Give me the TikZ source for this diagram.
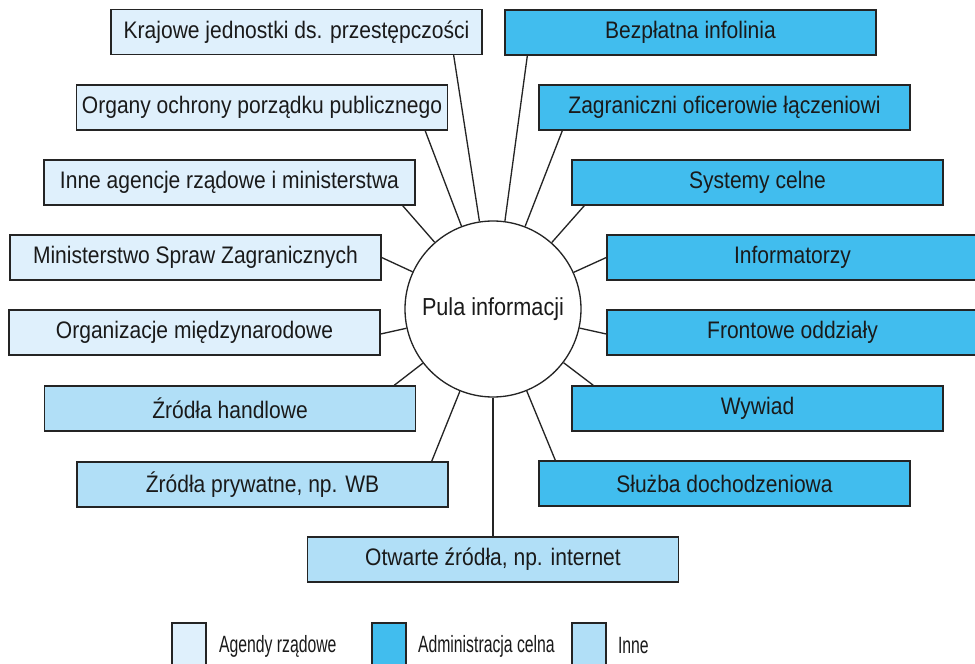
\documentclass[tikz,border=0pt]{standalone}
\usepackage{fontspec}
\setmainfont{Liberation Sans}[FakeStretch=0.88]
\newfontfamily\legfont{Liberation Sans}[FakeStretch=0.67]
\usepackage{tikz}
\usetikzlibrary{positioning, calc}

\definecolor{agendy}{HTML}{DFF0FC}
\definecolor{celna}{HTML}{41BDEE}
\definecolor{inne}{HTML}{B1DFF7}
\definecolor{ramka}{HTML}{242424}
\definecolor{tekst}{HTML}{1A1A1A}

\begin{document}
\begin{tikzpicture}[
                source/.style={draw=ramka, line width=0.75pt, rectangle, minimum width=7.42cm, minimum height=0.9cm, inner sep=0pt, text=tekst, font=\fontsize{13.6}{15}\selectfont},
                pool/.style={draw=ramka, line width=0.75pt, circle, minimum size=3.52cm, inner sep=0pt, text=tekst, font=\fontsize{14}{16}\selectfont},
                legbox/.style={draw=ramka, line width=0.75pt, rectangle, minimum width=0.68cm, minimum height=0.92cm, inner sep=0pt},
                legtext/.style={text=tekst, inner sep=0pt, anchor=west, font=\legfont\fontsize{13.4}{15}\selectfont},
                edge/.style={draw=ramka, line width=0.75pt}
            ]

            \clip (0,0) rectangle (19.5,-13.28);
            \fill[white] (0,0) rectangle (19.5,-13.28);

            % Pula
            \node[pool] (pula) at (9.86,-6.18) {Pula informacji};

            % Agendy rzadowe
            \node[source, fill=agendy] (kraj) at (5.93,-0.64) {Krajowe jednostki ds. przestępczości};
            \node[source, fill=agendy] (organy) at (5.24,-2.15) {Organy ochrony porządku publicznego};
            \node[source, fill=agendy] (agencje) at (4.59,-3.65) {Inne agencje rządowe i ministerstwa};
            \node[source, fill=agendy] (msz) at (3.91,-5.15) {Ministerstwo Spraw Zagranicznych};
            \node[source, fill=agendy] (orgmiedz) at (3.89,-6.65) {Organizacje międzynarodowe};

            % Inne
            \node[source, fill=inne] (handel) at (4.60,-8.17) {Źródła handlowe};
            \node[source, fill=inne] (prywatne) at (5.25,-9.69) {Źródła prywatne, np. WB};
            \node[source, fill=inne] (otwarte) at (9.86,-11.19) {Otwarte źródła, np. internet};

            % Administracja celna
            \node[source, fill=celna] (infolinia) at (13.81,-0.65) {Bezpłatna infolinia};
            \node[source, fill=celna] (oficerowie) at (14.49,-2.15) {Zagraniczni oficerowie łączeniowi};
            \node[source, fill=celna] (systemy) at (15.15,-3.65) {Systemy celne};
            \node[source, fill=celna] (informatorzy) at (15.85,-5.15) {Informatorzy};
            \node[source, fill=celna] (frontowe) at (15.85,-6.65) {Frontowe oddziały};
            \node[source, fill=celna] (wywiad) at (15.15,-8.17) {Wywiad};
            \node[source, fill=celna] (sluzba) at (14.49,-9.67) {Służba dochodzeniowa};

            % Kanten
            \draw[edge] (pula) -- ([xshift=-0.58cm]kraj.south east);
            \draw[edge] (pula) -- ([xshift=-0.46cm]organy.south east);
            \draw[edge] (pula) -- ([xshift=-0.26cm]agencje.south east);
            \draw[edge] (pula) -- (msz.east);
            \draw[edge] (pula) -- ([yshift=-0.03cm]orgmiedz.east);
            \draw[edge] (pula) -- ([xshift=-0.44cm]handel.north east);
            \draw[edge] (pula) -- ([xshift=-0.34cm]prywatne.north east);
            \draw[edge] (pula) -- (otwarte.north);
            \draw[edge] (pula) -- ([xshift=0.46cm]infolinia.south west);
            \draw[edge] (pula) -- ([xshift=0.48cm]oficerowie.south west);
            \draw[edge] (pula) -- ([xshift=0.26cm]systemy.south west);
            \draw[edge] (pula) -- (informatorzy.west);
            \draw[edge] (pula) -- ([yshift=-0.03cm]frontowe.west);
            \draw[edge] (pula) -- ([xshift=0.44cm]wywiad.north west);
            \draw[edge] (pula) -- ([xshift=0.34cm]sluzba.north west);

            % Legenda
            \node[legbox, fill=agendy] (legA) at (3.78,-12.92) {};
            \node[legtext, right=0.24cm of legA.east, anchor=west] (legAtxt) {Agendy rządowe};
            \node[legbox, fill=celna] (legB) at (7.78,-12.92) {};
            \node[legtext, right=0.22cm of legB.east, anchor=west] (legBtxt) {Administracja celna};
            \node[legbox, fill=inne] (legC) at (11.78,-12.92) {};
            \node[legtext, right=0.22cm of legC.east, anchor=west] (legCtxt) {Inne};

        \end{tikzpicture}
\end{document}
